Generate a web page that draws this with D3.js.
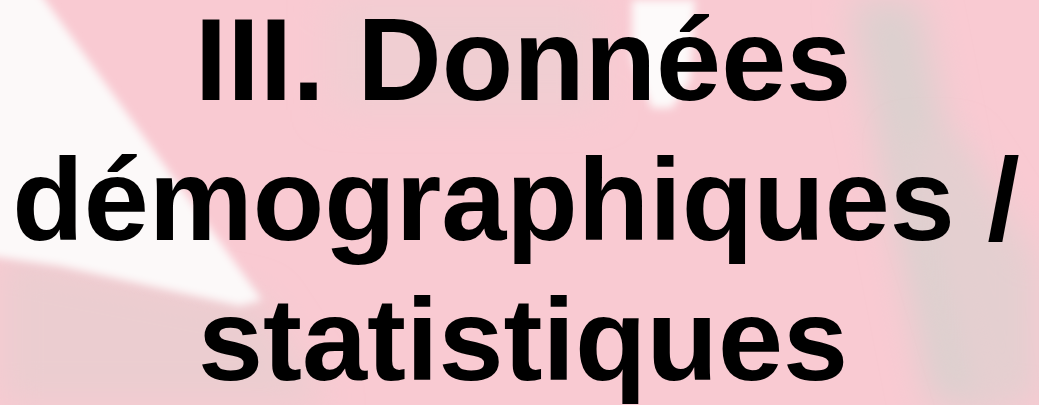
<!DOCTYPE html>
<html><head><meta charset="utf-8">
<script src="https://cdn.jsdelivr.net/npm/d3@7"></script>
<style>html,body{margin:0;padding:0;overflow:hidden;background:#f7cad1}</style>
</head><body>
<script>
const titleLines = ["III. Données", "démographiques /", "statistiques"];
const W = 1039, H = 405;
const svg = d3.select("body").append("svg").attr("width", W).attr("height", H);
const defs = svg.append("defs");
defs.append("filter").attr("id","b1").attr("x","-20%").attr("y","-20%").attr("width","140%").attr("height","140%")
  .append("feGaussianBlur").attr("stdDeviation", 4);
defs.append("filter").attr("id","b2").attr("x","-50%").attr("y","-50%").attr("width","200%").attr("height","200%")
  .append("feGaussianBlur").attr("stdDeviation", 18);

svg.append("rect").attr("width", W).attr("height", H).attr("fill", "#f9cad2");
// lower-left greyish zone
svg.append("path").attr("d","M0,250 L260,300 L330,405 L0,405 Z").attr("fill","#ebcdd0").attr("filter","url(#b2)");
// upper middle greyer pink
svg.append("path").attr("d","M330,0 L600,0 L600,110 L330,110 Z").attr("fill","#f0ced2").attr("filter","url(#b2)");
// right grey band
svg.append("path").attr("d","M850,0 L920,0 L1000,405 L930,405 Z").attr("fill","#dcd0cf").attr("filter","url(#b2)");
svg.append("path").attr("d","M900,140 L960,140 L1039,260 L1039,405 L980,405 Z").attr("fill","#e4cfd0").attr("filter","url(#b2)");
// white diagonal band
svg.append("path").attr("d","M-10,-10 L38,-10 L45,0 L262,300 L240,306 L60,266 L-10,256 Z").attr("fill","#fcf9f9").attr("filter","url(#b1)");
// white blob near top
svg.append("path").attr("d","M632,0 L695,0 L690,80 L672,108 L652,108 L632,60 Z").attr("fill","#fdfafa").attr("filter","url(#b1)");

const fs = 117;
const baselines = [100, 240, 380];
const centers = [523, 516, 523];
svg.selectAll("text.title").data(titleLines).join("text")
  .attr("class","title")
  .attr("x", (d,i) => centers[i])
  .attr("y", (d,i) => baselines[i])
  .attr("text-anchor","middle")
  .attr("font-family","'Liberation Sans', Arial, sans-serif")
  .attr("font-weight","bold")
  .attr("font-size", fs)
  .attr("fill","#000")
  .text(d => d);
</script>
</body></html>
